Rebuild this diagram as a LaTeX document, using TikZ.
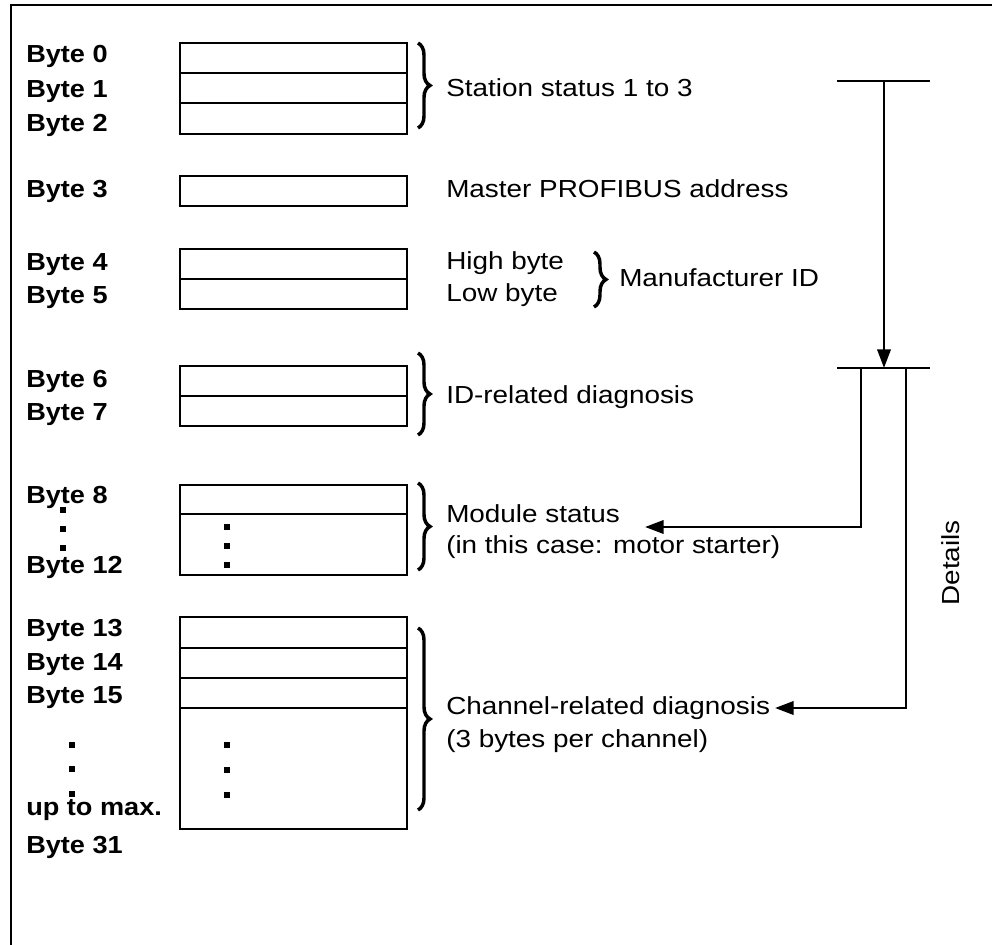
\documentclass[tikz,border=0pt]{standalone}
\usepackage{fontspec}
\setmainfont[FakeStretch=1.13,BoldFeatures={FakeStretch=1.1}]{Liberation Sans}
\usetikzlibrary{arrows.meta,decorations.pathreplacing}
\tikzset{
  cell/.style={draw,line width=1.7pt,anchor=north west,minimum width=170.25pt,inner sep=0pt,outer sep=0pt},
  blab/.style={anchor=base west,inner sep=0pt,font=\fontsize{18.5pt}{21pt}\selectfont\bfseries},
  rlab/.style={anchor=base west,inner sep=0pt,font=\fontsize{18.5pt}{21pt}\selectfont},
  dotsq/.style={fill,rectangle,minimum size=4.2pt,inner sep=0pt},
  brc/.style={decorate,decoration={brace,amplitude=9pt},line width=2.6pt},
  conn/.style={line width=2pt},
  arr/.style={conn,-{Triangle[length=14pt,width=10pt]}},
  frame/.style={line width=2pt}
}
\begin{document}
\begin{tikzpicture}[x=0.75pt,y=-0.75pt]
\useasboundingbox (0,0) rectangle (992,945);
\draw[frame] (11,946) -- (11,5) -- (993,5);
% byte labels
\node[blab] (b0) at (26,63) {Byte 0};
\node[blab] (b1) at (26,98) {Byte 1};
\node[blab] (b2) at (26,132) {Byte 2};
\node[blab] (b3) at (26,198) {Byte 3};
\node[blab] (b4) at (26,270) {Byte 4};
\node[blab] (b5) at (26,303) {Byte 5};
\node[blab] (b6) at (26,387) {Byte 6};
\node[blab] (b7) at (26,420) {Byte 7};
\node[blab] (b8) at (26,503) {Byte 8};
\node[blab] (b12) at (26,573) {Byte 12};
\node[blab] (b13) at (26,636) {Byte 13};
\node[blab] (b14) at (26,670) {Byte 14};
\node[blab] (b15) at (26,703) {Byte 15};
\node[blab] (bmax) at (26,815) {up to max.};
\node[blab] (b31) at (26,853) {Byte 31};
% dots in label column
\node[dotsq] (ld1) at (63,510) {};
\node[dotsq] (ld2) at (63,529) {};
\node[dotsq] (ld3) at (63,548) {};
\node[dotsq] (ld4) at (72,745) {};
\node[dotsq] (ld5) at (72,769) {};
\node[dotsq] (ld6) at (72,794) {};
% cells
\node[cell,minimum height=22.5pt] (c0) at (180,43) {};
\node[cell,minimum height=22.5pt] (c1) at (180,73) {};
\node[cell,minimum height=23.25pt] (c2) at (180,103) {};
\node[cell,minimum height=22.5pt] (c3) at (180,176) {};
\node[cell,minimum height=22.5pt] (c4) at (180,249) {};
\node[cell,minimum height=22.5pt] (c5) at (180,279) {};
\node[cell,minimum height=22.5pt] (c6) at (180,366) {};
\node[cell,minimum height=22.5pt] (c7) at (180,396) {};
\node[cell,minimum height=21.75pt] (c8) at (180,485) {};
\node[cell,minimum height=45.75pt] (c9) at (180,514) {};
\node[cell,minimum height=23.25pt] (c13) at (180,617) {};
\node[cell,minimum height=22.5pt] (c14) at (180,648) {};
\node[cell,minimum height=22.5pt] (c15) at (180,678) {};
\node[cell,minimum height=90.75pt] (c16) at (180,708) {};
% dots in cells
\node[dotsq] (cd1) at (227,527) {};
\node[dotsq] (cd2) at (227,546) {};
\node[dotsq] (cd3) at (227,565) {};
\node[dotsq] (cd4) at (227,745) {};
\node[dotsq] (cd5) at (227,770) {};
\node[dotsq] (cd6) at (227,795) {};
% braces
\draw[brc] (418,43) -- (418,128);
\draw[brc] (594,252) -- (594,307);
\draw[brc] (418,353) -- (418,435);
\draw[brc] (418,483) -- (418,570);
\draw[brc] (418,628) -- (418,810);
% descriptions
\node[rlab] (t1) at (446,97) {Station status 1 to 3};
\node[rlab] (t2) at (446,198) {Master PROFIBUS address};
\node[rlab] (t3) at (446,269) {High byte};
\node[rlab] (t4) at (446,301) {Low byte};
\node[rlab] (t5) at (619,286) {Manufacturer ID};
\node[rlab] (t6) at (446,403) {ID-related diagnosis};
\node[rlab] (t7) at (446,522) {Module status};
\node[rlab] (t8) at (446,553) {(in this case: motor starter)};
\node[rlab] (t9) at (446,714) {Channel-related diagnosis};
\node[rlab] (t10) at (446,747) {(3 bytes per channel)};
\node[rlab,anchor=center,rotate=90] (det) at (951,563) {Details};
% right side connectors
\coordinate (ta) at (837,81);
\coordinate (tb) at (930,81);
\coordinate (tm) at (884,81);
\coordinate (ua) at (837,368);
\coordinate (ub) at (930,368);
\coordinate (um) at (884,368);
\coordinate (ul) at (861,368);
\coordinate (ur) at (906,368);
\coordinate (modend) at (645,527);
\coordinate (chend) at (775,708);
\draw[conn] (ta) -- (tb);
\draw[conn] (ua) -- (ub);
\draw[arr] (tm) -- (um);
\draw[arr] (ul) |- (modend);
\draw[arr] (ur) |- (chend);
\end{tikzpicture}
\end{document}
